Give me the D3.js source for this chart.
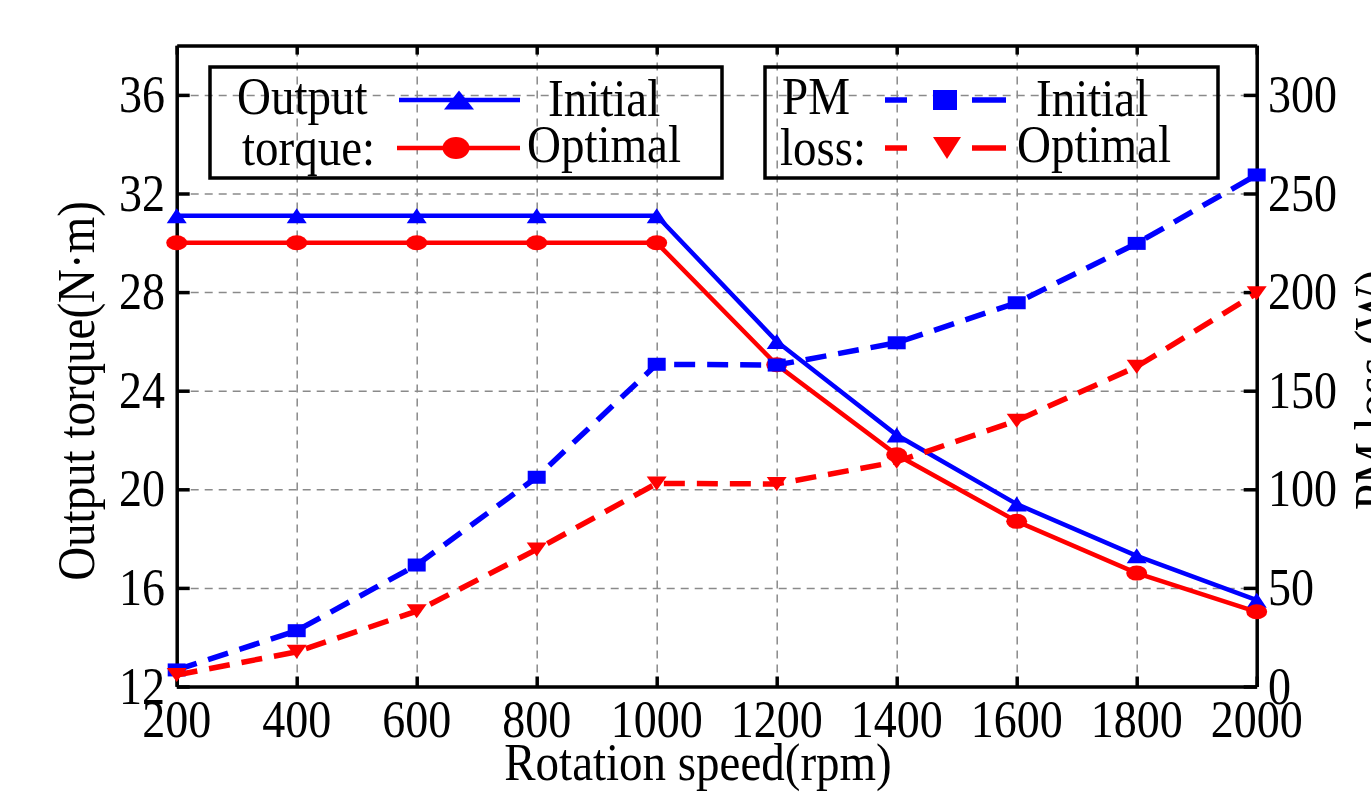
<!DOCTYPE html>
<html><head><meta charset="utf-8">
<script src="https://cdn.jsdelivr.net/npm/d3@7"></script>
<style>body{margin:0;background:#fff} text{font-family:"Liberation Serif","Times New Roman",serif;fill:#000}</style>
</head><body><svg id="c" width="1371" height="792"></svg>
<script>
// ---- data ----
const speed = [200, 400, 600, 800, 1000, 1200, 1400, 1600, 1800, 2000];
const torqueInitial = [31.1, 31.1, 31.1, 31.1, 31.1, 26.0, 22.2, 19.4, 17.3, 15.5];
const torqueOptimal = [30.0, 30.0, 30.0, 30.0, 30.0, 25.05, 21.4, 18.7, 16.6, 15.03];
const lossInitial = [8.4, 28.3, 61.6, 106.1, 163.4, 163.0, 174.3, 194.6, 224.7, 259.4];
const lossOptimal = [5.8, 17.6, 38.2, 69.5, 103.0, 102.7, 114.0, 134.8, 162.2, 199.4];
const speedTicks = [200, 400, 600, 800, 1000, 1200, 1400, 1600, 1800, 2000];
const torqueTicks = [12, 16, 20, 24, 28, 32, 36];
const lossTicks = [0, 50, 100, 150, 200, 250, 300];
const xTitle = "Rotation speed(rpm)";
const yLeftTitle = "Output torque(N·m)";
const yRightTitle = "PM loss (W)";
const legendTorqueTitle = ["Output", "torque:"];
const legendLossTitle = ["PM", "loss:"];
const seriesNames = ["Initial", "Optimal"];

// ---- layout ----
const L = 176.7, R = 1256.7, T = 45.6, B = 686.5;
const BLUE = "#0000ff", RED = "#ff0000", GRID = "#8a8a8a";
const VS = 1.13; // vertical glyph stretch seen in the reference
const svg = d3.select("#c");

const x = d3.scaleLinear().domain([200, 2000]).range([L, R]);
const yL = d3.scaleLinear().domain([12, 38]).range([B, T]);
const yR = d3.scaleLinear().domain([0, 325]).range([B, T]);

function label(g, px, py, s, anchor, size, rot) {
  return g.append("g")
    .attr("transform", `translate(${px},${py}) rotate(${rot || 0}) scale(1,${VS})`)
    .append("text").attr("text-anchor", anchor).attr("font-size", size).text(s);
}

// ---- grid ----
const grid = svg.append("g");
grid.append("g").attr("transform", `translate(0,${B})`)
  .call(d3.axisBottom(x).tickValues(speedTicks.slice(1, -1)).tickSize(-(B - T)).tickFormat(""));
grid.append("g").attr("transform", `translate(${L},0)`)
  .call(d3.axisLeft(yL).tickValues(torqueTicks.slice(1)).tickSize(-(R - L)).tickFormat(""));
grid.selectAll(".domain").remove();
grid.selectAll("line").attr("stroke", GRID).attr("stroke-width", 1.5).attr("stroke-dasharray", "8,6");

// ---- axes (box, inward ticks) ----
const ax = svg.append("g");
ax.append("g").attr("transform", `translate(0,${B})`)
  .call(d3.axisBottom(x).tickValues(speedTicks).tickSize(-10).tickSizeOuter(0).tickFormat(""));
ax.append("g").attr("transform", `translate(0,${T})`)
  .call(d3.axisTop(x).tickValues(speedTicks).tickSize(-9).tickSizeOuter(0).tickFormat(""));
ax.append("g").attr("transform", `translate(${L},0)`)
  .call(d3.axisLeft(yL).tickValues(torqueTicks).tickSize(-13).tickSizeOuter(0).tickFormat(""));
ax.append("g").attr("transform", `translate(${R},0)`)
  .call(d3.axisRight(yR).tickValues(lossTicks).tickSize(-13).tickSizeOuter(0).tickFormat(""));
ax.selectAll(".domain").attr("stroke", "#000").attr("stroke-width", 3.5);
ax.selectAll(".tick line").attr("stroke", "#000").attr("stroke-width", 3.5);

// tick labels
const tl = svg.append("g");
speedTicks.forEach(v => label(tl, x(v), 737, String(v), "middle", 46));
torqueTicks.forEach(v => label(tl, 165, yL(v) + 17, String(v), "end", 46));
lossTicks.forEach(v => label(tl, 1268, yR(v) + 17, String(v), "start", 46));

// axis titles
label(svg, 698, 780, xTitle, "middle", 47);
label(svg, 94, 391, yLeftTitle, "middle", 47, -90);
label(svg, 1391, 390, yRightTitle, "middle", 47, -90);

// ---- markers ----
function marker(g, type, cx, cy, w, h, color) {
  if (type === "circle") {
    g.append("ellipse").attr("cx", cx).attr("cy", cy).attr("rx", w / 2).attr("ry", h / 2).attr("fill", color);
  } else if (type === "square") {
    g.append("rect").attr("x", cx - w / 2).attr("y", cy - h / 2).attr("width", w).attr("height", h).attr("fill", color);
  } else {
    const s = type === "up" ? 1 : -1;
    g.append("path").attr("d",
      `M${cx - w / 2},${cy + s * h / 2}L${cx + w / 2},${cy + s * h / 2}L${cx},${cy - s * h / 2}Z`).attr("fill", color);
  }
}

const series = [
  { vals: torqueInitial, y: yL, color: BLUE, dash: null, type: "up", mw: 20, mh: 15 },
  { vals: torqueOptimal, y: yL, color: RED, dash: null, type: "circle", mw: 21, mh: 15 },
  { vals: lossInitial, y: yR, color: BLUE, dash: "21,12", type: "square", mw: 18, mh: 13 },
  { vals: lossOptimal, y: yR, color: RED, dash: "21,12", type: "down", mw: 20, mh: 14 }
];
const plot = svg.append("g");
series.forEach(s => {
  const pts = speed.map((v, i) => [v, s.vals[i]]);
  const line = d3.line().x(d => x(d[0])).y(d => s.y(d[1]));
  plot.append("path").attr("d", line(pts)).attr("fill", "none").attr("stroke", s.color)
    .attr("stroke-width", s.dash ? 5.5 : 4.5).attr("stroke-dasharray", s.dash);
  const mg = plot.append("g");
  pts.forEach(d => marker(mg, s.type, x(d[0]), s.y(d[1]), s.mw, s.mh, s.color));
});

// ---- legends ----
const lg = svg.append("g");
function legendBox(x0, x1, title, items) {
  lg.append("rect").attr("x", x0).attr("y", 67).attr("width", x1 - x0).attr("height", 111)
    .attr("fill", "none").attr("stroke", "#000").attr("stroke-width", 3.5);
  label(lg, title.x[0], 114, title.t[0], "start", 47);
  label(lg, title.x[1], 165, title.t[1], "start", 47);
  items.forEach(it => {
    lg.append("line").attr("x1", it.x0).attr("x2", it.x1).attr("y1", it.y).attr("y2", it.y)
      .attr("stroke", it.color).attr("stroke-width", it.dash ? 5.5 : 4.5).attr("stroke-dasharray", it.dash);
    marker(lg, it.type, it.mx, it.y, it.mw, it.mh, it.color);
    label(lg, it.tx, it.ty, it.name, "start", 47);
  });
}
legendBox(210, 722, { t: legendTorqueTitle, x: [237, 242] }, [
  { x0: 399, x1: 520, y: 100, color: BLUE, dash: null, type: "up", mx: 459, mw: 30, mh: 19, name: seriesNames[0], tx: 548, ty: 116 },
  { x0: 397, x1: 520, y: 148, color: RED, dash: null, type: "circle", mx: 456, mw: 27, mh: 22, name: seriesNames[1], tx: 527, ty: 162 }
]);
legendBox(765, 1218, { t: legendLossTitle, x: [782, 780] }, [
  { x0: 885, x1: 1006, y: 100, color: BLUE, dash: "22,65,34", type: "square", mx: 945, mw: 24, mh: 20, name: seriesNames[0], tx: 1036, ty: 116 },
  { x0: 885, x1: 1006, y: 148, color: RED, dash: "22,65,34", type: "down", mx: 947, mw: 28, mh: 22, name: seriesNames[1], tx: 1017, ty: 162 }
]);
</script></body></html>
